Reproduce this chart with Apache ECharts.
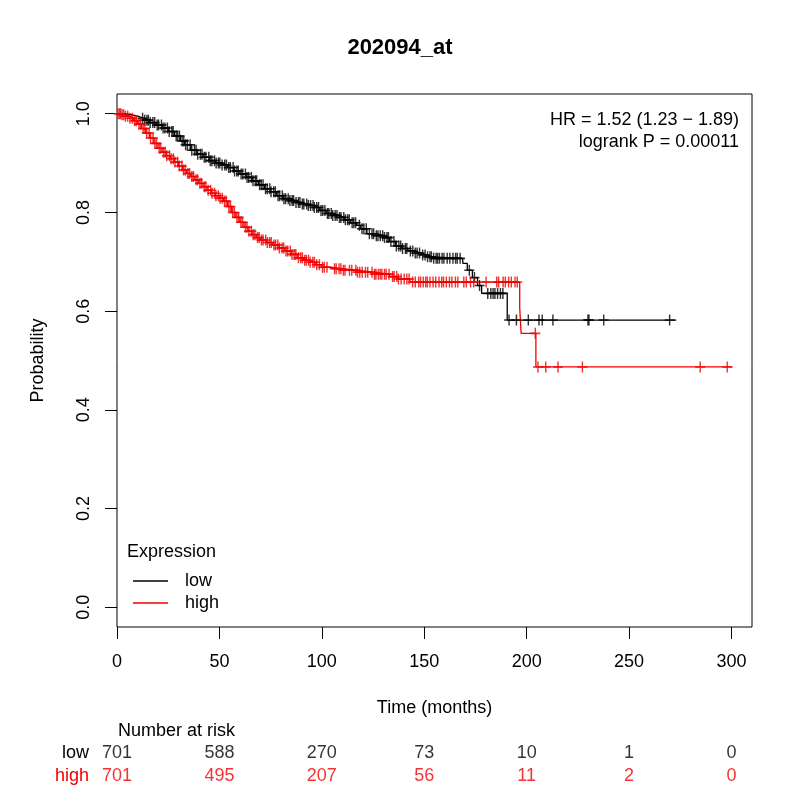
<!DOCTYPE html>
<html><head><meta charset="utf-8">
<script src="https://cdn.jsdelivr.net/npm/echarts@6/dist/echarts.min.js"></script>
<style>html,body{margin:0;padding:0;background:#fff}#c{width:800px;height:800px}</style>
</head><body><div id="c"></div>
<script>
const chartTitle = '202094_at';
const xTicks = [0, 50, 100, 150, 200, 250, 300];
const yTicks = [0, 0.2, 0.4, 0.6, 0.8, 1.0];
const groups = ['low', 'high'];

const lowTimes = [0,4,7,10,13,16,19,22,25,28,31,33,36,39,42,45,48,51,54,57,60,63,66,69,72,75,78,81,84,87,90,93,96,99,102,105,108,111,114,117,119,122,126,130,133,136,139,142,145,148,151,154,168.8,171,173.5,176,178,190.5];
const lowSurv  = [1.0,0.998,0.995,0.991,0.987,0.982,0.977,0.971,0.964,0.955,0.945,0.937,0.926,0.918,0.912,0.905,0.900,0.896,0.891,0.884,0.878,0.871,0.864,0.856,0.848,0.842,0.834,0.828,0.824,0.820,0.817,0.814,0.810,0.804,0.798,0.794,0.790,0.785,0.779,0.774,0.767,0.757,0.753,0.749,0.741,0.732,0.727,0.722,0.718,0.714,0.710,0.707,0.697,0.683,0.668,0.652,0.636,0.582];
const lowEnd = 273;
const lowCensor = [12.5,13.5,14.6,15.3,16.2,17.5,18.4,19.6,20.3,21.7,22.5,23.4,24.6,25.5,26.8,27.4,28.9,29.6,30.5,31.8,32.6,33.5,34.4,35.7,36.5,37.8,38.6,39.4,40.7,41.5,42.6,43.4,44.8,45.5,46.3,47.6,48.4,49.5,50.2,51.3,52.6,53.4,54.5,55.3,56.7,57.4,58.5,59.2,60.6,61.4,62.7,63.5,64.3,65.6,66.4,67.5,68.2,69.6,70.4,71.3,72.5,73.4,74.6,75.2,76.5,77.3,78.6,79.4,80.7,81.5,82.3,83.6,84.4,85.5,86.2,87.4,88.6,89.3,90.5,91.2,92.6,93.4,94.5,95.7,96.3,97.5,98.4,99.6,100.4,101.5,102.7,103.4,104.6,105.3,106.5,107.4,108.6,109.3,110.7,111.5,112.6,113.4,114.8,115.6,116.5,118.3,119.6,120.5,121.7,123.2,124.5,125.3,126.6,127.4,128.5,129.7,130.6,131.8,132.5,133.7,135.2,136.4,137.6,138.5,139.4,140.8,141.5,143.2,144.4,145.6,146.5,147.7,149.2,150.4,151.6,152.8,153.5,154.6,155.8,156.5,157.4,158.7,159.6,161.2,162.5,164.0,165.3,166.1,167.5,172,174.5,177,181,182.5,183.6,184.5,185.8,187.2,188.4,191.4,195,200.8,206,207.6,212.8,229.9,230.4,237.6,269.8];

const highTimes = [0,2,4,6,8,10,12,14,16,18,20,22,24,26,28,30,32,34,36,38,40,42,44,46,48,50,52,54,56,58,60,62,64,66,68,70,73,76,79,82,85,88,91,94,97,100,104,110,117,125,133,137,143,196.6,197.3,204.5];
const highSurv  = [1.0,0.998,0.995,0.991,0.986,0.979,0.970,0.961,0.951,0.940,0.930,0.922,0.915,0.909,0.902,0.894,0.886,0.879,0.873,0.866,0.859,0.852,0.845,0.839,0.834,0.829,0.823,0.812,0.800,0.790,0.780,0.770,0.762,0.755,0.749,0.744,0.739,0.734,0.728,0.722,0.715,0.708,0.703,0.699,0.694,0.689,0.686,0.683,0.679,0.675,0.670,0.665,0.659,0.607,0.555,0.487];
const highEnd = 300.5;
const highCensor = [0.5,1.2,1.8,2.5,3.3,4.1,5.2,6.3,7.5,8.6,9.4,10.7,11.5,12.8,13.6,14.5,15.7,16.4,17.6,18.5,19.3,20.6,21.4,22.7,23.5,24.3,25.6,26.4,27.5,28.3,29.6,30.4,31.7,32.5,33.3,34.6,35.4,36.5,37.3,38.6,39.4,40.5,41.3,42.6,43.4,44.5,45.7,46.4,47.6,48.3,49.5,50.3,51.4,52.5,53.3,54.6,55.4,56.5,57.3,58.6,59.4,60.5,61.3,62.7,63.5,64.4,65.6,66.5,67.3,68.6,69.4,70.5,71.3,72.6,73.4,74.5,75.3,76.6,77.4,78.5,79.3,80.6,81.4,82.5,83.3,84.6,85.4,86.5,87.3,88.6,89.7,90.5,91.6,92.4,93.5,94.3,95.6,96.4,97.5,98.8,100.3,101.2,102.5,106.2,107.0,108.4,109.3,110.5,111.3,113.5,114.6,116.6,117.4,118.5,119.7,121.3,122.4,124.5,125.7,126.4,127.6,128.5,129.3,130.6,131.4,132.8,134.5,135.3,136.6,137.4,138.7,140.2,141.5,142.6,144.3,145.6,147.3,148.2,149.5,150.7,151.5,152.8,154.3,155.6,157.2,158.5,159.4,160.8,162.3,163.5,165.2,166.4,169.3,170.5,172.6,174.1,180.2,185.4,186.3,188.5,189.6,191.2,192.5,194.3,195.4,204.2,205.5,209.3,215.3,227.2,284.7,297.9];

const riskTimes = [0, 50, 100, 150, 200, 250, 300];
const riskLow  = [701, 588, 270, 73, 10, 1, 0];
const riskHigh = [701, 495, 207, 56, 11, 2, 0];
const statLines = ['HR = 1.52 (1.23 \u2212 1.89)', 'logrank P = 0.00011'];

const RED = '#F00000';
const FONT = '"Liberation Sans", Arial, Helvetica, sans-serif';
const PLUS = 'path://M5,0V10M0,5H10';

function stepPath(times, surv, end) {
  const pts = [];
  for (let i = 0; i < times.length; i++) {
    if (i > 0) pts.push([times[i], surv[i - 1]]);
    pts.push([times[i], surv[i]]);
  }
  pts.push([end, surv[surv.length - 1]]);
  return pts;
}
function survAt(times, surv, t) {
  let s = surv[0];
  for (let i = 0; i < times.length; i++) { if (times[i] <= t) s = surv[i]; else break; }
  return s;
}
function censorPts(c, times, surv) { return c.map(t => [t, survAt(times, surv, t)]); }

const chart = echarts.init(document.getElementById('c'), null, {renderer: 'canvas'});

chart.setOption({
  animation: false,
  backgroundColor: '#fff',
  textStyle: {fontFamily: FONT},
  grid: [
    {left: 117, right: 48, top: 94, bottom: 173, show: true, borderColor: '#000', borderWidth: 1, backgroundColor: 'transparent'},
    {left: 117, right: 48, top: 741.5, height: 46, show: false}
  ],
  xAxis: [
    {type: 'value', gridIndex: 0, min: 0, max: 310,
     axisLine: {show: false, onZero: false},
     axisTick: {show: true, length: 12, inside: false, lineStyle: {color: '#000', width: 1}, customValues: xTicks},
     axisLabel: {show: true, margin: 26, customValues: xTicks, fontSize: 18, fontFamily: FONT, color: '#000', lineHeight: 18},
     splitLine: {show: false},
     name: 'Time (months)', nameLocation: 'middle', nameGap: 72,
     nameTextStyle: {fontSize: 18, fontFamily: FONT, color: '#000', lineHeight: 18}},
    {type: 'value', gridIndex: 1, min: 0, max: 310, show: false}
  ],
  yAxis: [
    {type: 'value', gridIndex: 0, min: -0.04, max: 1.04,
     axisLine: {show: false, onZero: false},
     axisTick: {show: true, length: 12, inside: false, lineStyle: {color: '#000', width: 1}, customValues: yTicks},
     axisLabel: {show: true, rotate: 90, margin: 24, customValues: yTicks, formatter: v => v.toFixed(1), fontSize: 18, fontFamily: FONT, color: '#000'},
     splitLine: {show: false},
     name: 'Probability', nameLocation: 'middle', nameGap: 70, nameRotate: 90,
     nameTextStyle: {fontSize: 18, fontFamily: FONT, color: '#000'}},
    {type: 'category', gridIndex: 1, data: ['high', 'low'],
     axisLine: {show: false}, axisTick: {show: false},
     axisLabel: {interval: 0, margin: 28, fontSize: 18, fontFamily: FONT, color: v => v === 'high' ? RED : '#000'}}
  ],
  legend: {
    data: groups, orient: 'vertical', left: 133, top: 572,
    icon: 'rect', itemWidth: 35, itemHeight: 1.5, itemGap: 4,
    textStyle: {fontSize: 18, fontFamily: FONT, color: '#000', lineHeight: 18, padding: [0, 0, 0, 12]},
    padding: 0, selectedMode: false
  },
  graphic: [
    {type: 'text', left: 'center', top: 37, style: {text: chartTitle, fontFamily: FONT, fontSize: 22, fontWeight: 'bold', fill: '#000'}},
    {type: 'text', x: 739, y: 120, style: {text: statLines[0], fontFamily: FONT, fontSize: 18, fill: '#000', textAlign: 'right', textVerticalAlign: 'middle'}},
    {type: 'text', x: 739, y: 142, style: {text: statLines[1], fontFamily: FONT, fontSize: 18, fill: '#000', textAlign: 'right', textVerticalAlign: 'middle'}},
    {type: 'text', x: 127, y: 552, style: {text: 'Expression', fontFamily: FONT, fontSize: 18, fill: '#000', textAlign: 'left', textVerticalAlign: 'middle'}},
    {type: 'text', x: 118, y: 731, style: {text: 'Number at risk', fontFamily: FONT, fontSize: 18, fill: '#000', textAlign: 'left', textVerticalAlign: 'middle'}}
  ],
  series: [
    {name: 'low', type: 'line', xAxisIndex: 0, yAxisIndex: 0, data: stepPath(lowTimes, lowSurv, lowEnd),
     showSymbol: false, symbol: 'none', color: '#000', lineStyle: {color: '#000', width: 1.3}, z: 2},
    {name: 'high', type: 'line', xAxisIndex: 0, yAxisIndex: 0, data: stepPath(highTimes, highSurv, highEnd),
     showSymbol: false, symbol: 'none', color: RED, lineStyle: {color: RED, width: 1.3}, z: 2},
    {name: 'low censored', type: 'scatter', xAxisIndex: 0, yAxisIndex: 0, data: censorPts(lowCensor, lowTimes, lowSurv),
     symbol: PLUS, symbolSize: [10, 11], itemStyle: {color: 'rgba(0,0,0,0)', borderColor: '#000', borderWidth: 1.5}, z: 3},
    {name: 'high censored', type: 'scatter', xAxisIndex: 0, yAxisIndex: 0, data: censorPts(highCensor, highTimes, highSurv),
     symbol: PLUS, symbolSize: [10, 11], itemStyle: {color: 'rgba(0,0,0,0)', borderColor: RED, borderWidth: 1.5}, z: 3},
    {name: 'risk low', type: 'scatter', xAxisIndex: 1, yAxisIndex: 1, data: riskTimes.map((t, i) => [t, 'low', riskLow[i]]),
     symbolSize: 0.1, itemStyle: {color: 'rgba(0,0,0,0)'}, silent: true,
     label: {show: true, position: 'inside', formatter: p => String(p.value[2]), fontSize: 18, fontFamily: FONT, color: '#000'}},
    {name: 'risk high', type: 'scatter', xAxisIndex: 1, yAxisIndex: 1, data: riskTimes.map((t, i) => [t, 'high', riskHigh[i]]),
     symbolSize: 0.1, itemStyle: {color: 'rgba(0,0,0,0)'}, silent: true,
     label: {show: true, position: 'inside', formatter: p => String(p.value[2]), fontSize: 18, fontFamily: FONT, color: RED}}
  ]
});
</script>
</body></html>
